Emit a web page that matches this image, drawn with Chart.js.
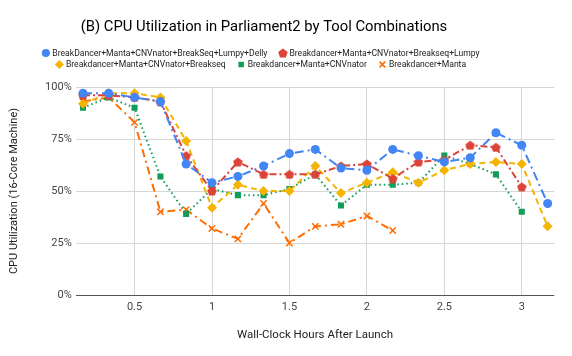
<!DOCTYPE html>
<html>
<head>
<meta charset="utf-8">
<script src="https://cdn.jsdelivr.net/npm/chart.js@4/dist/chart.umd.min.js"></script>
<style>
  html, body { margin: 0; padding: 0; background: #fff; }
  #wrap { width: 572px; height: 356px; position: relative; }
</style>
</head>
<body>
<div id="wrap"><canvas id="c" width="572" height="356"></canvas></div>
<script>
const titleText = '(B) CPU Utilization in Parliament2 by Tool Combinations';
const xTitle = 'Wall-Clock Hours After Launch';
const yTitle = 'CPU Utilization (16-Core Machine)';

const hours = [0.167, 0.333, 0.5, 0.667, 0.833, 1, 1.167, 1.333, 1.5, 1.667, 1.833, 2, 2.167, 2.333, 2.5, 2.667, 2.833, 3, 3.167];

const seriesNames = [
  'BreakDancer+Manta+CNVnator+BreakSeq+Lumpy+Delly',
  'Breakdancer+Manta+CNVnator+Breakseq+Lumpy',
  'Breakdancer+Manta+CNVnator+Breakseq',
  'Breakdancer+Manta+CNVnator',
  'Breakdancer+Manta'
];

const allSix   = [97, 97, 95, 93, 63, 54, 57, 62, 68, 70, 61, 60, 70, 67, 64, 66, 78, 72, 44];
const fiveTool = [96, 96, 95, 93, 67, 50, 64, 58, 58, 58, 62, 63, 56, 64, 65, 72, 71, 52, null];
const fourTool = [92, 97, 97, 95, 74, 42, 53, 50, 50, 62, 49, 54, 59, 54, 60, 63, 64, 63, 33];
const threeTool = [90, 95, 90, 57, 39, 51, 48, 48, 51, 58, 43, 53, 53, 54, 67, 63, 58, 40, null];
const twoTool  = [93, 95, 83, 40, 41, 32, 27, 44, 25, 33, 34, 38, 31, null, null, null, null, null, null];

const yTicks = [0, 25, 50, 75, 100];

const colors = ['#4285F4', '#DB4437', '#F4B400', '#0F9D58', '#FF6D00'];

// pentagon marker
function makePentagon(color, size) {
  const cv = document.createElement('canvas');
  cv.width = size; cv.height = size;
  const g = cv.getContext('2d');
  const r = size / 2;
  g.beginPath();
  for (let i = 0; i < 5; i++) {
    const a = -Math.PI / 2 + i * 2 * Math.PI / 5;
    const px = r + r * Math.cos(a);
    const py = r + 0.5 + r * Math.sin(a);
    if (i === 0) g.moveTo(px, py); else g.lineTo(px, py);
  }
  g.closePath();
  g.fillStyle = color;
  g.fill();
  return cv;
}
const pentagon = makePentagon(colors[1], 10);

function pts(arr) { return hours.map((h, i) => ({ x: h, y: arr[i] })); }

const datasets = [
  { label: seriesNames[0], data: pts(allSix), borderColor: colors[0], backgroundColor: colors[0],
    borderDash: [9, 4, 2, 4], pointStyle: 'circle', pointRadius: 4.5, pointBorderWidth: 0 },
  { label: seriesNames[1], data: pts(fiveTool), borderColor: colors[1], backgroundColor: colors[1],
    borderDash: [7, 3, 2, 3], pointStyle: pentagon, pointRadius: 5, pointBorderWidth: 0 },
  { label: seriesNames[2], data: pts(fourTool), borderColor: colors[2], backgroundColor: colors[2],
    borderDash: [6, 4], pointStyle: 'rectRot', pointRadius: 5, pointBorderWidth: 0 },
  { label: seriesNames[3], data: pts(threeTool), borderColor: colors[3], backgroundColor: colors[3],
    borderDash: [1.5, 3], pointStyle: 'rect', pointRadius: 4.3, pointBorderWidth: 0 },
  { label: seriesNames[4], data: pts(twoTool), borderColor: colors[4], backgroundColor: colors[4],
    borderDash: [8, 4, 2, 4], pointStyle: 'crossRot', pointRadius: 4.5, pointBorderWidth: 1.5 }
];
datasets.forEach(d => { d.borderWidth = 2; d.tension = 0; d.spanGaps = false; d.pointHoverRadius = d.pointRadius; });

const header = {
  id: 'header',
  afterDraw(chart) {
    const ctx = chart.ctx;
    ctx.save();
    ctx.fillStyle = '#000';
    ctx.font = '14.8px Roboto';
    ctx.textAlign = 'center';
    ctx.textBaseline = 'middle';
    ctx.fillText(titleText, 264, 27);

    ctx.font = '8.6px Roboto';
    ctx.textAlign = 'left';
    const rows = [[0, 1], [2, 3, 4]];
    const rowY = [53, 64.5];
    const markerW = 7, gap = 12, cx = 261;
    rows.forEach((row, ri) => {
      const y = rowY[ri];
      const items = row.map(i => ({ i, w: ctx.measureText(seriesNames[i]).width }));
      const total = items.reduce((s, it) => s + markerW + 3 + it.w, 0) + gap * (items.length - 1);
      let x = cx - total / 2;
      items.forEach(it => {
        const ds = chart.data.datasets[it.i];
        ctx.fillStyle = colors[it.i];
        ctx.strokeStyle = colors[it.i];
        ctx.lineWidth = ds.pointBorderWidth || 0;
        Chart.helpers.drawPoint(ctx, {
          pointStyle: ds.pointStyle, radius: ds.pointRadius * 0.9, rotation: 0,
          borderWidth: ds.pointBorderWidth
        }, x + 3.5, y);
        ctx.fillStyle = '#222';
        ctx.fillText(seriesNames[it.i], x + markerW + 3, y + 0.5);
        x += markerW + 3 + it.w + gap;
      });
    });
    ctx.restore();
  }
};

new Chart(document.getElementById('c'), {
  type: 'line',
  data: { datasets },
  plugins: [header],
  options: {
    responsive: false,
    animation: false,
    events: [],
    layout: { padding: { top: 87, right: 17.7, bottom: 0, left: 0 } },
    plugins: { legend: { display: false }, title: { display: false }, tooltip: { enabled: false } },
    scales: {
      x: {
        type: 'linear',
        min: 0.12, max: 3.21,
        afterFit(s) { s.height = 61; },
        border: { display: false },
        grid: { color: '#d6d6d6', drawTicks: false, lineWidth: 1 },
        ticks: {
          stepSize: 0.5, includeBounds: false, padding: 6,
          color: '#444', font: { family: 'Roboto', size: 11 },
          callback: v => String(Number(v.toFixed(2)))
        },
        title: { display: true, text: xTitle, color: '#222',
          font: { family: 'Roboto', size: 11.5 }, padding: { top: 0, bottom: 14 } }
      },
      y: {
        min: 0, max: 100,
        afterFit(s) { s.width = 75.7; },
        afterBuildTicks(s) { s.ticks = yTicks.map(v => ({ value: v })); },
        border: { display: false },
        grid: {
          drawTicks: false,
          color: c => (c.tick && c.tick.value === 0) ? '#555' : '#d6d6d6',
          lineWidth: 1
        },
        ticks: { padding: 4, color: '#444', font: { family: 'Roboto', size: 11 }, callback: v => v + '%' },
        title: { display: true, text: yTitle, color: '#222',
          font: { family: 'Roboto', size: 11 }, padding: { top: 8, bottom: 4 } }
      }
    }
  }
});
</script>
</body>
</html>
